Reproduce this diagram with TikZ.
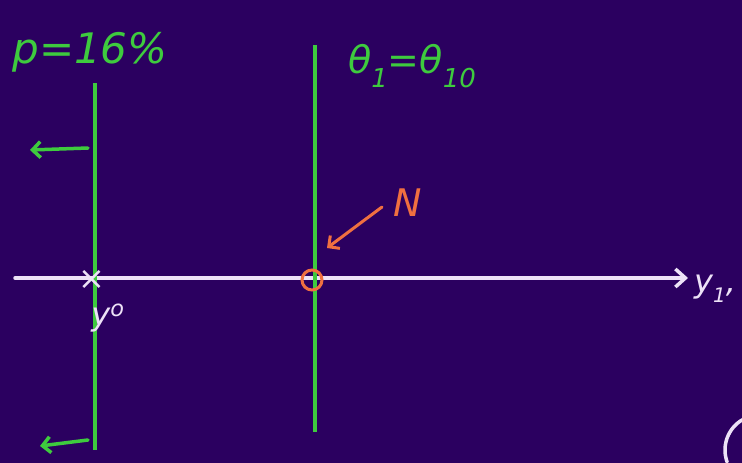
\documentclass[tikz,border=0pt]{standalone}
\usepackage{fontspec}
\setmainfont{DejaVu Sans}
\usetikzlibrary{arrows.meta}
\definecolor{bgc}{HTML}{2B0060}
\definecolor{grn}{HTML}{3ECB3E}
\definecolor{wht}{HTML}{EDE2F7}
\definecolor{org}{HTML}{F07040}
\tikzset{
  gline/.style={draw=grn, line width=3.5pt},
  wline/.style={draw=wht, line width=3.5pt, line cap=round},
  oline/.style={draw=org, line width=3pt, line cap=round},
  hand/.style={inner sep=0pt, font=\fontsize{38}{42}\selectfont\itshape},
}
\newcommand{\lowsub}[1]{\raisebox{-0.35em}{\fontsize{26}{28}\selectfont #1}}
\newcommand{\smallsub}[1]{\raisebox{-0.3em}{\fontsize{20}{22}\selectfont #1}}
\begin{document}
\begin{tikzpicture}[x=1pt,y=-1pt]
\fill[bgc] (0,0) rectangle (742,463);
\useasboundingbox (0,0) rectangle (742,463);
% coordinates
\coordinate (axL) at (15,278);
\coordinate (axR) at (688,278);
\coordinate (g1t) at (95,83);
\coordinate (g1b) at (95,450);
\coordinate (g2t) at (315,45);
\coordinate (g2b) at (315,432);
% axis
\draw[wline, -{Straight Barb[length=10pt,width=18pt,line width=3.5pt]}] (axL) -- (axR);
\node[inner sep=0pt, text=wht, font=\fontsize{32}{34}\selectfont\itshape, anchor=west] (ylab) at (694,289) {y\smallsub{1},};
% green lines
\draw[gline] (g1t) -- (g1b);
\draw[gline] (g2t) -- (g2b);
% labels
\node[hand, text=grn, font=\fontsize{42}{46}\selectfont\itshape] (plab) at (90,52) {p=16\%};
\node[hand, text=grn] (tlab) at (412,66) {θ\lowsub{1}=θ\lowsub{10}};
% green arrows
\coordinate (a1s) at (88,148);
\coordinate (a1e) at (30,150);
\coordinate (a2s) at (88,440);
\coordinate (a2e) at (40,446);
\draw[gline, line cap=round, -{Straight Barb[length=8pt,width=16pt,line width=3.5pt]}] (a1s) -- (a1e);
\draw[gline, line cap=round, -{Straight Barb[length=8pt,width=16pt,line width=3.5pt]}] (a2s) -- (a2e);
% y0 point
\node[inner sep=0pt, text=wht, font=\fontsize{32}{34}\selectfont] (xmark) at (92,280) {×};
\node[inner sep=0pt, text=wht, font=\fontsize{32}{34}\selectfont\itshape] (y0) at (108,318) {y\textsuperscript{o}};
% N point
\node[draw=org, line width=3pt, circle, minimum size=20pt, inner sep=0pt] (circ) at (312,280) {};
\node[hand, text=org] (N) at (408,203) {N};
\coordinate (ns) at (382,207);
\draw[oline, -{Straight Barb[length=8pt,width=16pt,line width=3pt]}] (ns) -- (327,248);
% partial arc bottom right
\draw[wline] (742.5,419.7) arc[start angle=240, end angle=160, radius=35];
\end{tikzpicture}
\end{document}
